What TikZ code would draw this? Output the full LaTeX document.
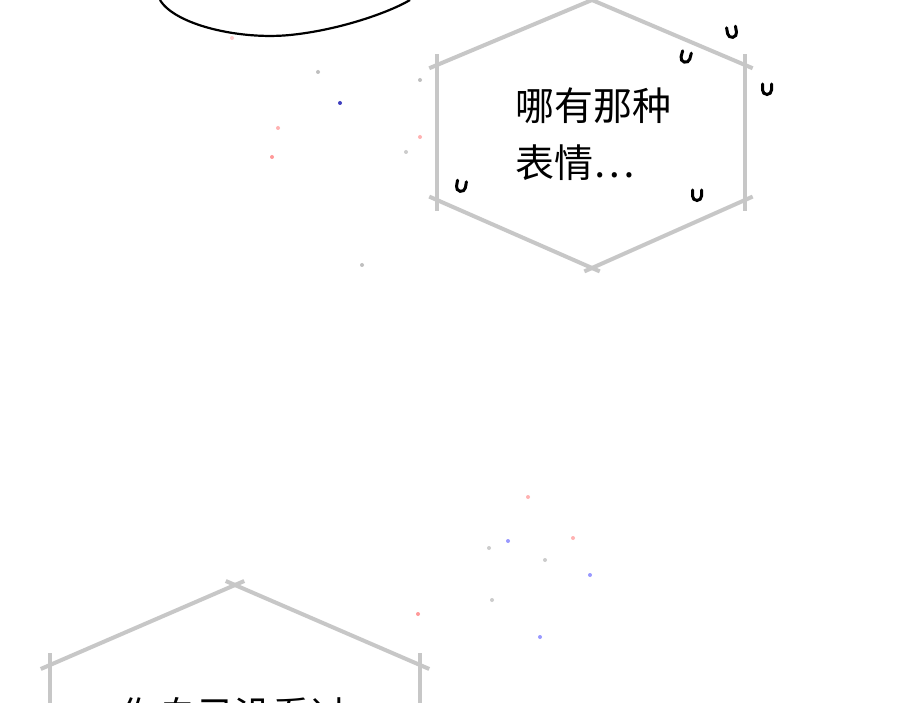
\documentclass[tikz,border=0pt]{standalone}
\usepackage{fontspec}
\usetikzlibrary{calc}
\newfontfamily\cjk{Noto Sans CJK SC}
\begin{document}
\begin{tikzpicture}[x=1pt,y=-1pt,
  hexline/.style={draw=black!22,line width=4pt},
  drop/.style={draw=black,line width=3pt,line cap=round}]
\useasboundingbox (0,0) rectangle (900,703);
\fill[white] (0,0) rectangle (900,703);
% top-left bubble edge
\draw[line width=2.2pt] (160,0) .. controls (175,25) and (240,40) .. (290,35) .. controls (340,30) and (390,12) .. (410,0);
% top hexagon
\coordinate (t) at (592,0); \coordinate (ur) at (745,65); \coordinate (lr) at (745,200);
\coordinate (b) at (592,268); \coordinate (ll) at (437,200); \coordinate (ul) at (437,65);
\draw[hexline] ($(t)!-0.05!(ur)$) -- ($(ur)!-0.05!(t)$);
\draw[hexline] ($(ur)!-0.08!(lr)$) -- ($(lr)!-0.08!(ur)$);
\draw[hexline] ($(lr)!-0.05!(b)$) -- ($(b)!-0.05!(lr)$);
\draw[hexline] ($(b)!-0.05!(ll)$) -- ($(ll)!-0.05!(b)$);
\draw[hexline] ($(ll)!-0.08!(ul)$) -- ($(ul)!-0.08!(ll)$);
\draw[hexline] ($(ul)!-0.05!(t)$) -- ($(t)!-0.05!(ul)$);
\node[font=\cjk\fontsize{39}{57}\selectfont,align=left,anchor=north west,inner sep=0pt] (txt) at (515,88) {哪有那种\\表情⋯};
% drops
\foreach \x/\y/\a in {731/27/10,687/52/-15,767/84/0,462/181/-10,697/190/0}{
  \draw[drop,rotate around={\a:(\x,\y)}] (\x-4.5,\y) -- ++(0,6) arc[start angle=180,end angle=0,radius=4.5] -- ++(0,-6);
}
% bottom hexagon
\coordinate (bt) at (235,585); \coordinate (br) at (420,665); \coordinate (bl) at (50,665);
\draw[hexline] ($(bl)!-0.05!(bt)$) -- ($(bt)!-0.05!(bl)$);
\draw[hexline] ($(bt)!-0.05!(br)$) -- ($(br)!-0.05!(bt)$);
\draw[hexline] (bl) ++(0,-12) -- (50,710);
\draw[hexline] (br) ++(0,-12) -- (420,710);
\begin{scope}
\clip (0,0) rectangle (900,703);
\node[font=\cjk\fontsize{38}{40}\selectfont,anchor=north west,inner sep=0pt] (btxt) at (120,697) {你自己没看过};
\end{scope}
% specks
\foreach \x/\y/\c in {340/103/blue!50!gray,272/157/red!40,278/128/red!30,420/137/red!30,232/38/red!20,318/72/gray!50,
 508/541/blue!40,590/575/blue!40,540/637/blue!40,418/614/red!40,573/538/red!30,528/497/red!30,545/560/gray!40,
 489/548/gray!40,492/600/gray!40,362/265/gray!50,406/152/gray!40,420/80/gray!50}{
  \fill[\c] (\x,\y) circle (2);
}
\end{tikzpicture}
\end{document}
